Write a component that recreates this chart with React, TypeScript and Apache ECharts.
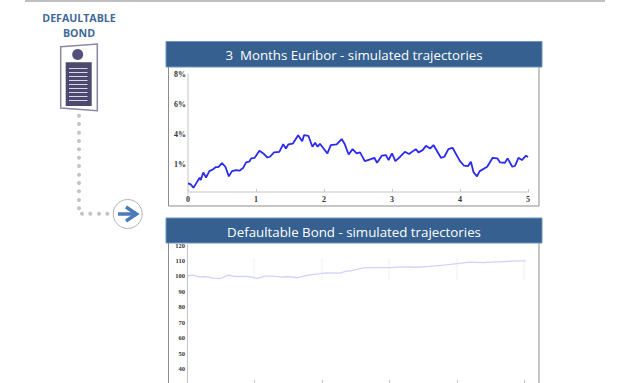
import React, { useEffect, useRef } from "react";
import * as echarts from "echarts";

const HEADER_BLUE = "#35608f";
const FRAME_GREY = "#8c8c8c";

const xTicks = [0, 1, 2, 3, 4, 5];
const euriborTickLabels: Record<number, string> = { 2: "1%", 4: "4%", 6: "6%", 8: "8%" };
const bondTickLabels = ["30", "40", "50", "60", "70", "80", "90", "100", "110", "120"];

const euriborTimes = [
  0, 0.04, 0.08, 0.12, 0.17, 0.186, 0.225, 0.265, 0.314, 0.363, 0.41, 0.446, 0.5, 0.55, 0.6, 0.647,
  0.706, 0.755, 0.814, 0.853, 0.9, 0.93, 0.98, 1.05, 1.108, 1.167, 1.206, 1.265, 1.343, 1.4, 1.44,
  1.475, 1.54, 1.62, 1.68, 1.706, 1.77, 1.83, 1.87, 1.907, 1.94, 2.05, 2.1, 2.186, 2.26, 2.3, 2.363,
  2.42, 2.48, 2.53, 2.6, 2.68, 2.74, 2.78, 2.85, 2.91, 2.95, 3.0, 3.05, 3.12, 3.19, 3.25, 3.35, 3.39,
  3.45, 3.5, 3.56, 3.61, 3.72, 3.77, 3.83, 3.89, 4.0, 4.06, 4.12, 4.16, 4.2, 4.25, 4.29, 4.4, 4.48,
  4.55, 4.59, 4.66, 4.7, 4.77, 4.81, 4.86, 4.91, 4.97, 5,
];
const euriborRates = [
  0.71, 0.64, 0.42, 0.71, 1.09, 0.93, 1.44, 1.09, 1.53, 1.64, 1.8, 1.8, 2.07, 1.82, 1.18, 1.53,
  1.6, 1.56, 1.76, 2.11, 2.16, 2.38, 2.42, 2.89, 2.71, 2.44, 2.49, 2.78, 2.82, 3.33, 3.04,
  3.31, 3.36, 3.93, 3.53, 3.93, 3.89, 3.16, 3.42, 3.16, 3.36, 2.71, 3.27, 3.31, 3.67, 3.38, 2.64,
  3.0, 2.71, 2.78, 2.2, 2.31, 2.42, 2.09, 2.56, 2.6, 2.27, 2.71, 2.2, 2.49, 2.82, 2.67, 3.0, 2.78,
  2.93, 3.22, 3.04, 3.27, 2.42, 2.49, 3.0, 3.09, 2.2, 1.89, 1.87, 2.16, 1.44, 1.18, 1.53, 1.82, 2.42,
  2.38, 2.11, 2.09, 2.38, 1.82, 1.89, 2.42, 2.27, 2.56, 2.47,
];

const bondTimes = [
  0.015, 0.09, 0.17, 0.27, 0.39, 0.49, 0.61, 0.71, 0.91, 1.04, 1.16, 1.28, 1.4, 1.5, 1.63, 1.8,
  1.97, 2.07, 2.27, 2.37, 2.41, 2.61, 2.81, 3.01, 3.21, 3.4, 3.6, 3.8, 4.0, 4.19, 4.39, 4.59, 4.79, 5.02,
];
const bondPrices = [
  100.1, 100.5, 99.4, 99.6, 98.6, 98.2, 100.5, 99.6, 99.6, 98.4, 99.9, 99.9, 99.2, 99.6, 98.8, 100.5,
  101.4, 102, 101.8, 103.3, 103.1, 105.2, 105.4, 105.4, 105.9, 105.6, 106.1, 107, 108, 108.9, 108.6, 109.1, 109.5, 109.7,
];

const zip = (xs: number[], ys: number[]) => xs.map((x, i) => [x, ys[i]]);

const panelHeader = (y: number, height: number, label: string) => [
  { type: "rect", shape: { x: 166, y, width: 376, height }, style: { fill: HEADER_BLUE, stroke: "#6f93bb", lineWidth: 1 } },
  {
    type: "text",
    x: 354,
    y: y + height / 2 + 1,
    style: { text: label, fill: "#ffffff", font: "13.3px 'Open Sans'", textAlign: "center", textVerticalAlign: "middle" },
  },
];

const frameLine = (x1: number, y1: number, x2: number, y2: number) => ({
  type: "line",
  shape: { x1, y1, x2, y2 },
  style: { stroke: FRAME_GREY, lineWidth: 1 },
});

const dot = (cx: number, cy: number) => ({ type: "circle", shape: { cx, cy, r: 2 }, style: { fill: "#c4c4c4" } });

const connectorDotsY = [115.7, 124, 132.7, 141, 149.3, 157.7, 166, 174.7, 183, 191.3, 200, 208.3];
const connectorDotsX = [82, 90.3, 99, 107.3];
const documentLinesY = [68.5, 72.5, 76.5, 80.5, 84.5, 88.5, 92.5, 96.5, 100.5];
const bondGhostLinesX = [254, 322, 389, 457, 524];

const buildOption = () => ({
  animation: false,
  backgroundColor: "#ffffff",
  grid: [
    { left: 188, top: 74.3, width: 340, height: 119.7 },
    { left: 187, top: 245, width: 337.5, height: 139 },
  ],
  xAxis: [
    {
      gridIndex: 0,
      type: "value",
      min: 0,
      max: 5,
      interval: 1,
      offset: -2,
      splitLine: { show: false },
      axisLine: { lineStyle: { color: "#e2e2e2", width: 2 } },
      axisTick: { inside: true, length: 3, lineStyle: { color: "#c8c8c8" } },
      axisLabel: {
        margin: 3,
        color: "#333333",
        fontFamily: "Liberation Serif",
        fontWeight: "bold",
        fontSize: 8,
        formatter: (v: number) => (xTicks.includes(v) ? String(v) : ""),
      },
    },
    {
      gridIndex: 1,
      type: "value",
      min: 0,
      max: 5,
      interval: 1,
      splitLine: { show: false },
      axisLine: { show: false },
      axisTick: { inside: true, length: 4, lineStyle: { color: "#c0c0c0" } },
      axisLabel: { show: false },
    },
  ],
  yAxis: [
    {
      gridIndex: 0,
      type: "value",
      min: 0,
      max: 8,
      interval: 2,
      splitLine: { show: false },
      axisLine: { show: true, lineStyle: { color: "#e2e2e2", width: 2 } },
      axisTick: { show: false },
      axisLabel: {
        margin: 2,
        color: "#333333",
        fontFamily: "Liberation Serif",
        fontWeight: "bold",
        fontSize: 8,
        formatter: (v: number) => euriborTickLabels[v] ?? "",
      },
    },
    {
      gridIndex: 1,
      type: "value",
      min: 30,
      max: 120,
      interval: 10,
      splitLine: { show: false },
      axisLine: { show: true, lineStyle: { color: "#c4c4c4", width: 1 } },
      axisTick: { show: false },
      axisLabel: {
        margin: 2,
        color: "#333333",
        fontFamily: "Liberation Serif",
        fontWeight: "bold",
        fontSize: 6.5,
        formatter: (v: number) => (bondTickLabels.includes(String(v)) ? String(v) : ""),
      },
    },
  ],
  series: [
    {
      type: "line",
      xAxisIndex: 0,
      yAxisIndex: 0,
      showSymbol: false,
      data: zip(euriborTimes, euriborRates),
      lineStyle: { color: "#2a2af0", width: 1.8 },
    },
    {
      type: "line",
      xAxisIndex: 1,
      yAxisIndex: 1,
      showSymbol: false,
      clip: false,
      data: zip(bondTimes, bondPrices),
      lineStyle: { color: "#d2d2fb", width: 1.3 },
    },
  ],
  graphic: [
    // top rule of the slide
    { type: "rect", shape: { x: 25, y: 0, width: 580, height: 2 }, style: { fill: "#bfbfbf" } },
    // frames round the two plots
    frameLine(168.5, 67, 168.5, 206),
    frameLine(168.5, 206, 539, 206),
    frameLine(539, 67, 539, 206),
    frameLine(168.5, 243, 168.5, 400),
    frameLine(539, 243, 539, 400),
    ...panelHeader(41.5, 25.5, "3  Months Euribor - simulated trajectories"),
    ...panelHeader(218, 25, "Defaultable Bond - simulated trajectories"),
    ...bondGhostLinesX.map((x) => ({
      type: "line",
      shape: { x1: x, y1: 258, x2: x, y2: 280 },
      style: { stroke: "#f1f1f6", lineWidth: 1 },
      z: -1,
    })),
    // bond caption
    {
      type: "text",
      x: 79,
      y: 25.5,
      style: {
        text: "DEFAULTABLE\nBOND",
        fill: "#3f6899",
        font: "bold 10.6px 'Open Sans'",
        lineHeight: 15,
        textAlign: "center",
        textVerticalAlign: "middle",
      },
    },
    // document icon
    {
      type: "polygon",
      shape: { points: [[60.7, 46.7], [97.3, 44], [97.3, 110.7], [60.7, 108]] },
      style: { fill: "#ffffff", stroke: "#8d87a3", lineWidth: 1.5 },
    },
    { type: "circle", shape: { cx: 77.7, cy: 54.5, r: 5.5 }, style: { fill: "#55507a" } },
    { type: "rect", shape: { x: 65.7, y: 62.3, width: 26, height: 43.7 }, style: { fill: "#4d4870" } },
    ...documentLinesY.map((y) => ({
      type: "line",
      shape: { x1: 69, y1: y, x2: 87.5, y2: y },
      style: { stroke: "#d9d8e2", lineWidth: 1 },
    })),
    // dotted connector and arrow badge
    ...connectorDotsY.map((y) => dot(79, y)),
    ...connectorDotsX.map((x) => dot(x, 213.7)),
    { type: "circle", shape: { cx: 127.7, cy: 214, r: 14.5 }, style: { fill: "#ffffff", stroke: "#b4b4b4", lineWidth: 1 } },
    {
      type: "polyline",
      shape: { points: [[118, 214], [136, 214]] },
      style: { stroke: "#4a7ab8", lineWidth: 3.5, fill: "none" },
    },
    {
      type: "polyline",
      shape: { points: [[126, 207], [136.5, 214], [126, 221]] },
      style: { stroke: "#4a7ab8", lineWidth: 3.5, fill: "none" },
    },
  ],
});

export default function App() {
  const ref = useRef<HTMLDivElement>(null);

  useEffect(() => {
    const chart = echarts.init(ref.current!, undefined, { renderer: "svg" });
    chart.setOption(buildOption() as any);
    return () => chart.dispose();
  }, []);

  // The drawing runs past the window's lower edge, where the outer box cuts it off.
  return (
    <div style={{ position: "absolute", left: 0, top: 0, width: 629, height: 383, overflow: "hidden" }}>
      <div ref={ref} style={{ width: 629, height: 400 }} />
    </div>
  );
}
